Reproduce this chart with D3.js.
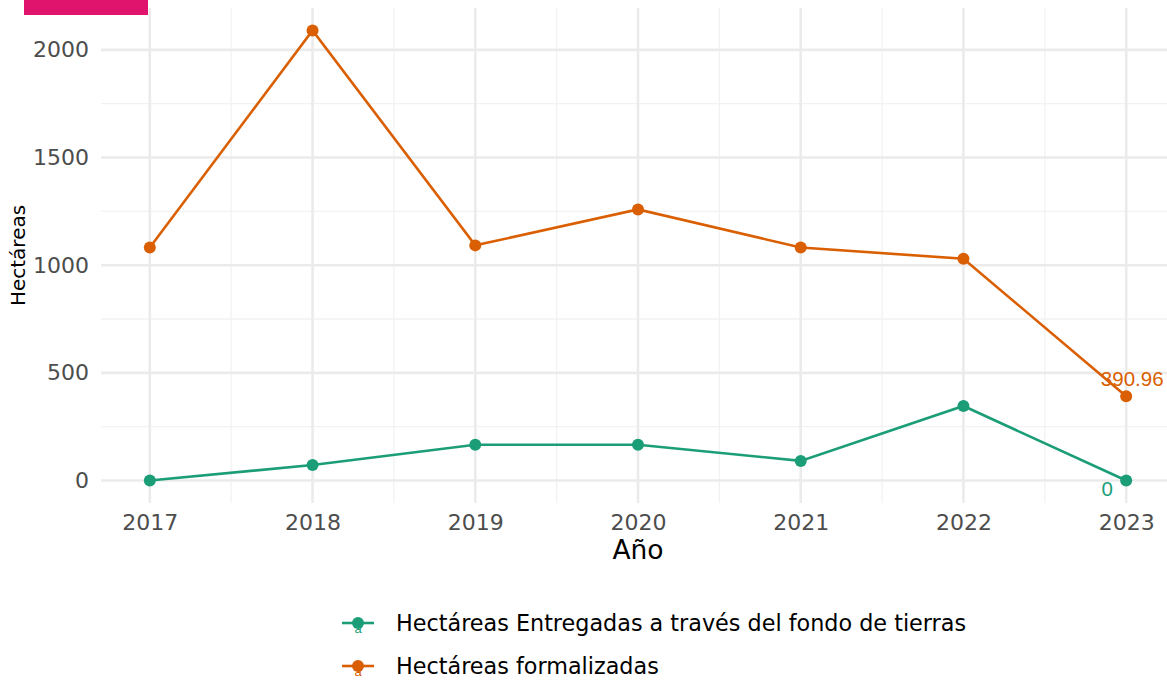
<!DOCTYPE html>
<html lang="es">
<head>
<meta charset="UTF-8">
<title>Hectáreas</title>
<style>
  body { margin: 0; background: #fff; }
  svg { display: block; font-family: "DejaVu Sans", Verdana, sans-serif; }
</style>
</head>
<body>
<div id="chart"></div>
<script src="https://d3js.org/d3.v7.min.js"></script>
<script>
const years = [2017, 2018, 2019, 2020, 2021, 2022, 2023];
const entregadas = [0, 72, 166, 166, 91, 346, 0];
const formalizadas = [1082, 2090, 1092, 1259, 1082, 1030, 390.96];
const yTicks = [0, 500, 1000, 1500, 2000];
const seriesNames = ["Hectáreas Entregadas a través del fondo de tierras", "Hectáreas formalizadas"];
const seriesColors = ["#1b9e77", "#d95f02"];

const width = 1167, height = 681;
const panel = { left: 101, right: 1175, top: 8, bottom: 503 };

const svg = d3.select("#chart").append("svg")
  .attr("width", width)
  .attr("height", height);

// scales with ggplot style 5% expansion
const xPad = (d3.max(years) - d3.min(years)) * 0.05;
const x = d3.scaleLinear()
  .domain([d3.min(years) - xPad, d3.max(years) + xPad])
  .range([panel.left, panel.right]);
const yMax = d3.max(formalizadas);
const y = d3.scaleLinear()
  .domain([-yMax * 0.05, yMax * 1.05])
  .range([panel.bottom, panel.top]);

// minor grid
const xMinor = years.slice(1).map(d => d - 0.5);
const yMinor = yTicks.slice(1).map(d => d - 250);

svg.append("g").selectAll("line")
  .data(yMinor)
  .join("line")
  .attr("x1", panel.left).attr("x2", panel.right)
  .attr("y1", d => y(d)).attr("y2", d => y(d))
  .attr("stroke", "#f2f2f2").attr("stroke-width", 1.3);

svg.append("g").selectAll("line")
  .data(xMinor)
  .join("line")
  .attr("x1", d => x(d)).attr("x2", d => x(d))
  .attr("y1", panel.top).attr("y2", panel.bottom)
  .attr("stroke", "#f2f2f2").attr("stroke-width", 1.3);

// major grid
svg.append("g").selectAll("line")
  .data(yTicks)
  .join("line")
  .attr("x1", panel.left).attr("x2", panel.right)
  .attr("y1", d => y(d)).attr("y2", d => y(d))
  .attr("stroke", "#ebebeb").attr("stroke-width", 2.6);

svg.append("g").selectAll("line")
  .data(years)
  .join("line")
  .attr("x1", d => x(d)).attr("x2", d => x(d))
  .attr("y1", panel.top).attr("y2", panel.bottom)
  .attr("stroke", "#ebebeb").attr("stroke-width", 2.6);

// axes
svg.append("g")
  .attr("transform", `translate(0,${panel.bottom})`)
  .call(d3.axisBottom(x).tickValues(years).tickFormat(d3.format("d")).tickSize(0).tickPadding(11))
  .call(g => g.select(".domain").remove())
  .selectAll("text")
  .attr("fill", "#4d4d4d")
  .style("font-size", "22px")
  .style("font-family", "DejaVu Sans, sans-serif");

svg.append("g")
  .attr("transform", `translate(${panel.left},0)`)
  .call(d3.axisLeft(y).tickValues(yTicks).tickFormat(d3.format("d")).tickSize(0).tickPadding(12))
  .call(g => g.select(".domain").remove())
  .selectAll("text")
  .attr("fill", "#4d4d4d")
  .style("font-size", "22px")
  .style("font-family", "DejaVu Sans, sans-serif");

// axis titles
svg.append("text")
  .attr("x", (panel.left + panel.right) / 2)
  .attr("y", 559)
  .attr("text-anchor", "middle")
  .style("font-size", "26.5px")
  .attr("fill", "#000")
  .text("Año");

svg.append("text")
  .attr("transform", `translate(25,${(panel.top + panel.bottom) / 2}) rotate(-90)`)
  .attr("text-anchor", "middle")
  .style("font-size", "20px")
  .attr("fill", "#000")
  .text("Hectáreas");

// lines and points
const series = [entregadas, formalizadas];
const line = d3.line()
  .x((d, i) => x(years[i]))
  .y(d => y(d));

series.forEach((vals, s) => {
  svg.append("path")
    .datum(vals)
    .attr("fill", "none")
    .attr("stroke", seriesColors[s])
    .attr("stroke-width", 2.6)
    .attr("d", line);

  svg.append("g").selectAll("circle")
    .data(vals)
    .join("circle")
    .attr("cx", (d, i) => x(years[i]))
    .attr("cy", d => y(d))
    .attr("r", 6)
    .attr("fill", seriesColors[s]);
});

// last value labels
const last = years.length - 1;
svg.append("text")
  .attr("x", x(years[last]) + 6)
  .attr("y", y(formalizadas[last]) - 10)
  .attr("text-anchor", "middle")
  .style("font-family", "Liberation Sans, Arial, sans-serif")
  .style("font-size", "20.5px")
  .attr("fill", seriesColors[1])
  .text(d3.format(".2f")(formalizadas[last]));

svg.append("text")
  .attr("x", x(years[last]) - 19)
  .attr("y", y(entregadas[last]) + 15)
  .attr("text-anchor", "middle")
  .style("font-family", "Liberation Sans, Arial, sans-serif")
  .style("font-size", "20.5px")
  .attr("fill", seriesColors[0])
  .text(entregadas[last]);

// legend
const legend = svg.append("g").attr("transform", "translate(342,623)");
seriesNames.forEach((name, i) => {
  const g = legend.append("g").attr("transform", `translate(0,${i * 43})`);
  g.append("line")
    .attr("x1", 0).attr("x2", 32)
    .attr("stroke", seriesColors[i]).attr("stroke-width", 2.6);
  g.append("text")
    .attr("x", 16).attr("y", 9.5)
    .attr("text-anchor", "middle")
    .style("font-family", "Liberation Sans, Arial, sans-serif")
    .style("font-size", "13px")
    .attr("fill", seriesColors[i])
    .text("a");
  g.append("circle")
    .attr("cx", 16).attr("r", 6)
    .attr("fill", seriesColors[i]);
  g.append("text")
    .attr("x", 54).attr("y", 8)
    .style("font-size", "22.3px")
    .attr("fill", "#000")
    .text(name);
});

// pink tab at top left
svg.append("rect")
  .attr("x", 24).attr("y", 0)
  .attr("width", 124).attr("height", 15)
  .attr("fill", "#e0136d");
</script>
</body>
</html>
